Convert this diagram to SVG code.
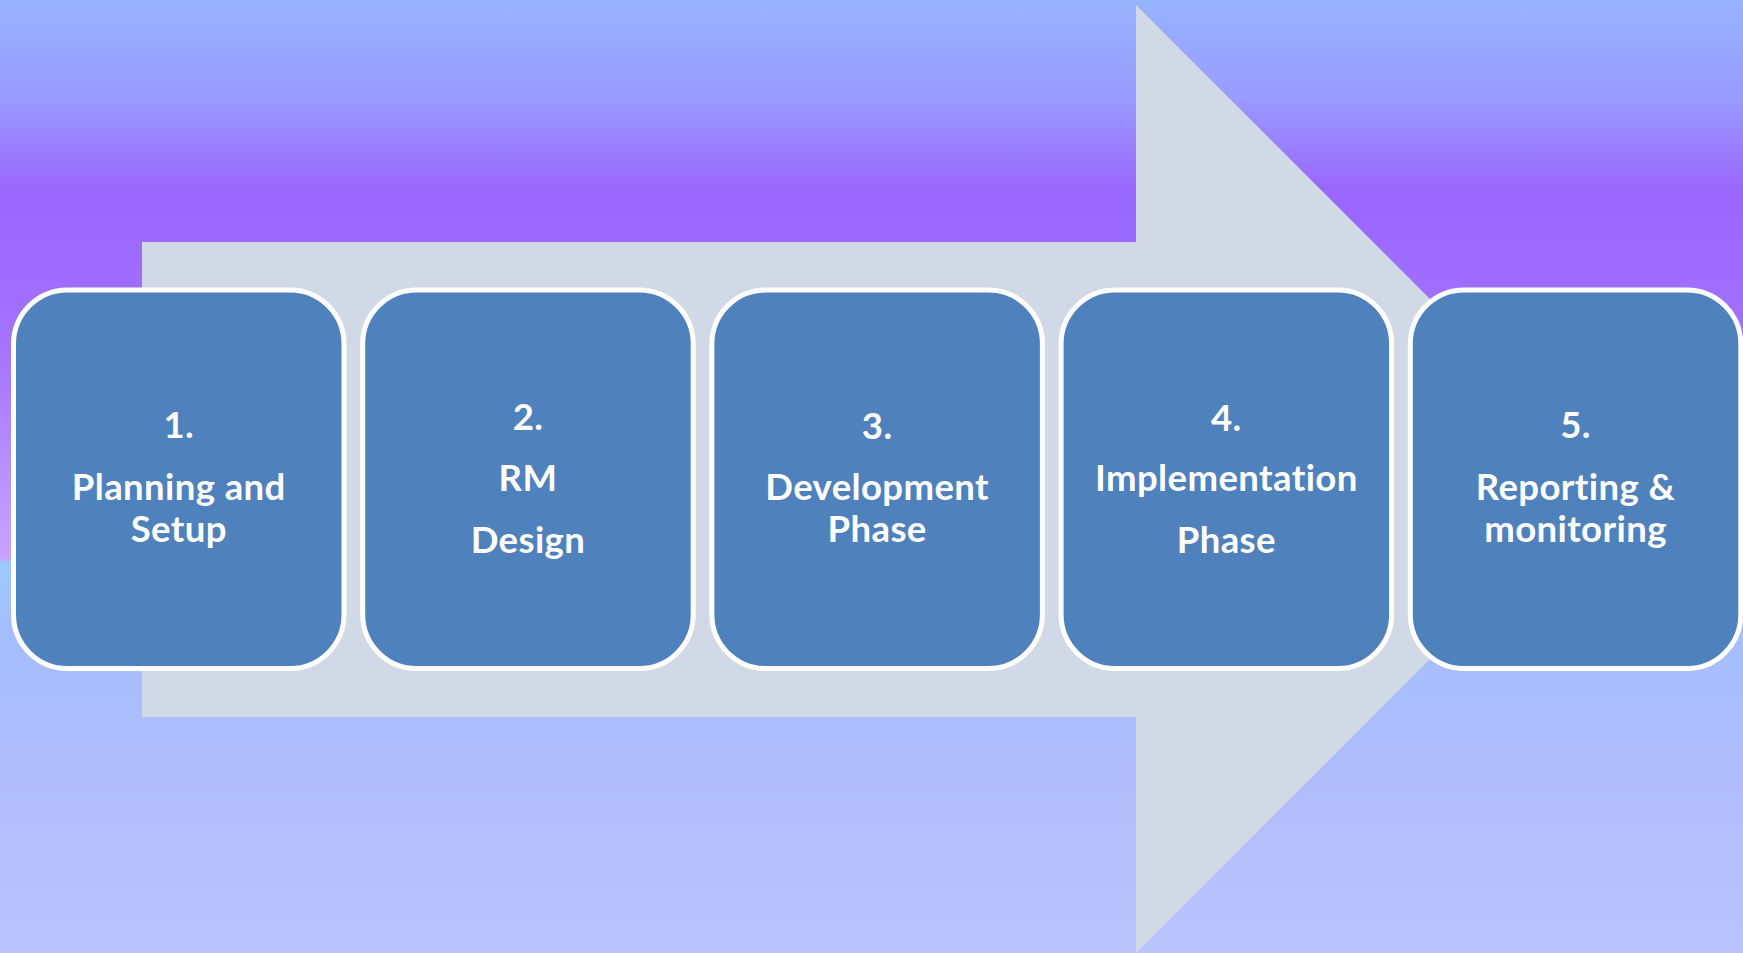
<svg xmlns="http://www.w3.org/2000/svg" width="1743" height="953" viewBox="0 0 1743 953">
  <defs>
    <linearGradient id="bg" x1="0" y1="0" x2="0" y2="1">
      <stop offset="0" stop-color="#97B3FE"/>
      <stop offset="0.10" stop-color="#999CFE"/>
      <stop offset="0.20" stop-color="#9966FF"/>
      <stop offset="0.36" stop-color="#A373FF"/>
      <stop offset="0.585" stop-color="#C9A3FE"/>
      <stop offset="0.592" stop-color="#9CC9FF"/>
      <stop offset="0.66" stop-color="#A4BEFE"/>
      <stop offset="0.82" stop-color="#B1BCFC"/>
      <stop offset="1" stop-color="#BAC4FD"/>
    </linearGradient>
    <style>
      .box { fill: #4F81BD; stroke: #FFFFFF; stroke-width: 5; }
      .label { font-family: Lato, "Liberation Sans", sans-serif; font-weight: bold; font-size: 36.5px; letter-spacing: 0.4px; font-variant-ligatures: none; fill: #FFFFFF; text-anchor: middle; }
      .flow { fill: #D1D9E6; }
    </style>
  </defs>

  <!-- backdrop -->
  <rect x="0" y="0" width="1743" height="953" fill="url(#bg)"/>

  <!-- large block arrow behind the steps -->
  <g id="connectors">
    <polygon class="flow" points="142,242 1136,242 1136,5 1610,479 1136,953 1136,717 142,717"/>
  </g>

  <!-- process steps -->
  <g id="step1">
    <rect class="box" x="13.5" y="290" width="330.5" height="378.5" rx="54" ry="54"/>
    <text class="label" x="178.75" y="438">1.</text>
    <text class="label" x="178.75" y="500">Planning and</text>
    <text class="label" x="178.75" y="542">Setup</text>
  </g>
  <g id="step2">
    <rect class="box" x="362.7" y="290" width="330.5" height="378.5" rx="54" ry="54"/>
    <text class="label" x="527.95" y="430">2.</text>
    <text class="label" x="527.95" y="491">RM</text>
    <text class="label" x="527.95" y="553">Design</text>
  </g>
  <g id="step3">
    <rect class="box" x="711.9" y="290" width="330.5" height="378.5" rx="54" ry="54"/>
    <text class="label" x="877.15" y="439">3.</text>
    <text class="label" x="877.15" y="500">Development</text>
    <text class="label" x="877.15" y="542">Phase</text>
  </g>
  <g id="step4">
    <rect class="box" x="1061.1" y="290" width="330.5" height="378.5" rx="54" ry="54"/>
    <text class="label" x="1226.35" y="431">4.</text>
    <text class="label" x="1226.35" y="491">Implementation</text>
    <text class="label" x="1226.35" y="553">Phase</text>
  </g>
  <g id="step5">
    <rect class="box" x="1410.3" y="290" width="330.5" height="378.5" rx="54" ry="54"/>
    <text class="label" x="1575.55" y="438">5.</text>
    <text class="label" x="1575.55" y="500">Reporting &amp;</text>
    <text class="label" x="1575.55" y="542">monitoring</text>
  </g>
</svg>
